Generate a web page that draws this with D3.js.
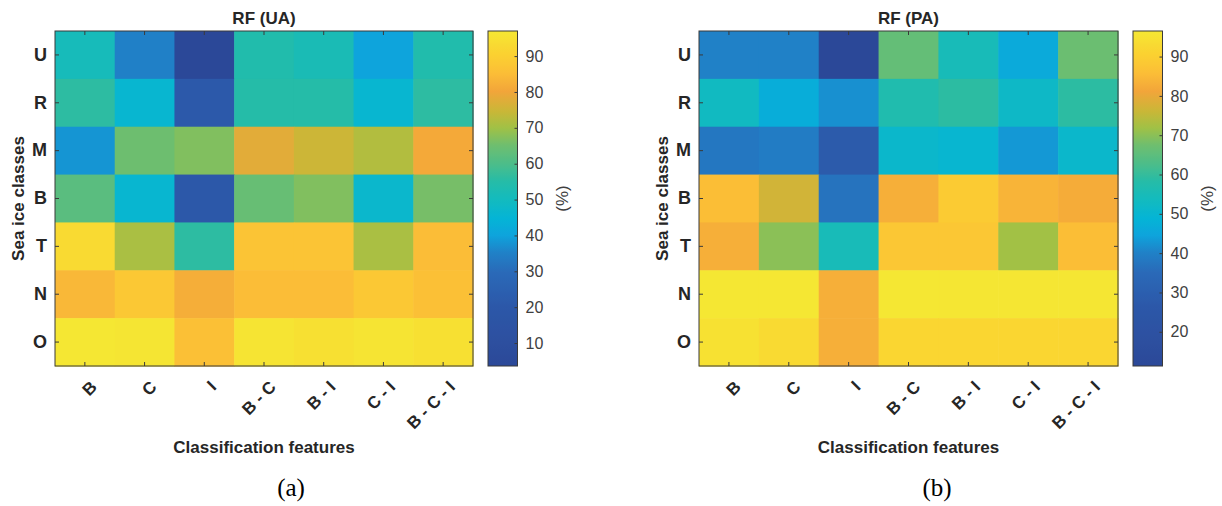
<!DOCTYPE html>
<html>
<head>
<meta charset="utf-8">
<script src="https://cdn.jsdelivr.net/npm/d3@7"></script>
<style>
  html, body { margin: 0; padding: 0; background: #fff; }
  svg { display: block; }
</style>
</head>
<body>
<svg id="chart" width="1222" height="506"></svg>
<script>
// Classification features (columns) and sea ice classes (rows)
const features = ["B", "C", "I", "B - C", "B - I", "C - I", "B - C - I"];
const classes = ["U", "R", "M", "B", "T", "N", "O"];

// User's accuracy (%) — one row per class, one entry per feature set
const uaValues = [
  [51, 35, 3.6, 54, 52, 40, 54],
  [56, 46, 21, 55, 55, 46, 56],
  [38, 65, 67, 78, 75, 72, 81],
  [62, 46, 20, 64, 67, 47, 66],
  [93, 71, 56, 87, 87, 71, 85],
  [84, 88, 82, 85, 85, 88, 86],
  [97, 96.5, 86, 96, 95, 96, 95]
];

// Producer's accuracy (%)
const paValues = [
  [40, 40, 11.3, 66, 55, 46, 67],
  [53, 47, 42, 57, 59, 52, 59],
  [38, 39, 28, 51, 50, 43, 51],
  [86, 77, 37, 83, 89, 84, 82.5],
  [83, 70, 55, 88, 88, 72, 86],
  [96.5, 96.5, 83, 96.5, 96.3, 96.3, 96.3],
  [95, 93, 83, 92, 92, 92, 92]
];

// Colour bar tick values
const uaColorTicks = [10, 20, 30, 40, 50, 60, 70, 80, 90];
const paColorTicks = [20, 30, 40, 50, 60, 70, 80, 90];

// Parula-like colour ramp (position 0..1 -> colour)
const rampPos = [0, 0.07, 0.18, 0.28, 0.34, 0.39, 0.44, 0.50, 0.55, 0.60, 0.66, 0.71, 0.76, 0.82, 0.87, 0.93, 1.0];
const rampCol = ["#2b4898", "#2d4f9f", "#2c58a9", "#2a6ab8", "#1f82c8", "#0ea4dc", "#04b4d6", "#14bbbd",
                 "#25bca8", "#4abd8b", "#6fbe6e", "#a0c146", "#c9b737", "#f2a53a", "#fbbc37", "#fbd131", "#f5e733"];
const ramp = d3.scaleLinear().domain(rampPos).range(rampCol).interpolate(d3.interpolateRgb).clamp(true);

const FONT = "'Liberation Sans', Arial, Helvetica, sans-serif";
const INK = "#262626";
const FRAME = "#3a3a3a";

const svg = d3.select("#chart");
const defs = svg.append("defs");

const plotTop = 31, plotBottom = 366;

const panels = [
  { id: "ua", title: "RF (UA)", caption: "(a)", values: uaValues, ticks: uaColorTicks,
    left: 55, right: 473, cbLeft: 488, cbWidth: 29.5, captionX: 291 },
  { id: "pa", title: "RF (PA)", caption: "(b)", values: paValues, ticks: paColorTicks,
    left: 699, right: 1118, cbLeft: 1133, cbWidth: 29.5, captionX: 937 }
];

panels.forEach(p => {
  const g = svg.append("g").attr("class", "panel-" + p.id);

  const cells = [];
  p.values.forEach((row, i) => row.forEach((v, j) => cells.push({ cls: classes[i], feat: features[j], v })));
  const extent = d3.extent(cells, d => d.v);
  const color = d3.scaleSequential(ramp).domain(extent);

  const x = d3.scaleBand().domain(features).range([p.left, p.right]).padding(0);
  const y = d3.scaleBand().domain(classes).range([plotTop, plotBottom]).padding(0);

  // Heat map cells
  g.append("g")
    .selectAll("rect")
    .data(cells)
    .join("rect")
    .attr("x", d => x(d.feat))
    .attr("y", d => y(d.cls))
    .attr("width", x.bandwidth() + 0.6)
    .attr("height", y.bandwidth() + 0.6)
    .attr("fill", d => color(d.v));

  // Plot frame
  g.append("rect")
    .attr("x", p.left).attr("y", plotTop)
    .attr("width", p.right - p.left).attr("height", plotBottom - plotTop)
    .attr("fill", "none").attr("stroke", FRAME).attr("stroke-width", 1);

  // Axes with inward ticks on all four sides
  const axB = g.append("g").attr("transform", `translate(0,${plotBottom})`)
    .call(d3.axisBottom(x).tickSizeInner(-4).tickSizeOuter(0));
  const axL = g.append("g").attr("transform", `translate(${p.left},0)`)
    .call(d3.axisLeft(y).tickSizeInner(-4).tickSizeOuter(0).tickPadding(8));
  g.append("g").attr("transform", `translate(0,${plotTop})`)
    .call(d3.axisTop(x).tickSizeInner(-4).tickSizeOuter(0).tickFormat(""));
  g.append("g").attr("transform", `translate(${p.right},0)`)
    .call(d3.axisRight(y).tickSizeInner(-4).tickSizeOuter(0).tickFormat(""));

  g.selectAll(".domain").remove();
  g.selectAll(".tick line").attr("stroke", FRAME);

  axB.selectAll("text")
    .attr("y", 0).attr("dy", 0)
    .attr("transform", "translate(13,22) rotate(-45)")
    .attr("text-anchor", "end")
    .style("font-family", FONT).style("font-size", "17px").style("font-weight", "bold")
    .attr("fill", INK);

  axL.selectAll("text")
    .style("font-family", FONT).style("font-size", "18px").style("font-weight", "bold")
    .attr("fill", INK);

  // Title
  g.append("text")
    .attr("x", (p.left + p.right) / 2).attr("y", 23.5)
    .attr("text-anchor", "middle")
    .style("font-family", FONT).style("font-size", "17px").style("font-weight", "bold")
    .attr("fill", INK)
    .text(p.title);

  // Axis titles
  g.append("text")
    .attr("transform", `translate(${p.left - 37},${(plotTop + plotBottom) / 2}) rotate(-90)`)
    .attr("text-anchor", "middle").attr("dominant-baseline", "central")
    .style("font-family", FONT).style("font-size", "17px").style("font-weight", "bold")
    .attr("fill", INK)
    .text("Sea ice classes");

  g.append("text")
    .attr("x", (p.left + p.right) / 2).attr("y", 453)
    .attr("text-anchor", "middle")
    .style("font-family", FONT).style("font-size", "17px").style("font-weight", "bold")
    .attr("fill", INK)
    .text("Classification features");

  // Colour bar
  const gradId = "grad-" + p.id;
  const grad = defs.append("linearGradient").attr("id", gradId)
    .attr("x1", 0).attr("y1", 1).attr("x2", 0).attr("y2", 0);
  grad.selectAll("stop")
    .data(d3.range(0, 1.0001, 0.01))
    .join("stop")
    .attr("offset", t => t)
    .attr("stop-color", t => ramp(t));

  const cb = d3.scaleLinear().domain(extent).range([plotBottom, plotTop]);
  g.append("rect")
    .attr("x", p.cbLeft).attr("y", plotTop)
    .attr("width", p.cbWidth).attr("height", plotBottom - plotTop)
    .attr("fill", `url(#${gradId})`)
    .attr("stroke", FRAME).attr("stroke-width", 1);

  const axC = g.append("g").attr("transform", `translate(${p.cbLeft + p.cbWidth},0)`)
    .call(d3.axisRight(cb).tickValues(p.ticks).tickSizeInner(-3).tickSizeOuter(0).tickPadding(8));
  axC.select(".domain").remove();
  axC.selectAll(".tick line").attr("stroke", FRAME);
  axC.selectAll("text")
    .style("font-family", FONT).style("font-size", "16px")
    .attr("fill", "#404040");

  g.append("text")
    .attr("transform", `translate(${p.cbLeft + 74},${(plotTop + plotBottom) / 2}) rotate(-90)`)
    .attr("text-anchor", "middle").attr("dominant-baseline", "central")
    .style("font-family", FONT).style("font-size", "17px")
    .attr("fill", "#404040")
    .text("(%)");

  // Panel caption
  g.append("text")
    .attr("x", p.captionX).attr("y", 496)
    .attr("text-anchor", "middle")
    .style("font-family", "'Liberation Serif', 'Times New Roman', serif").style("font-size", "25px")
    .attr("fill", "#000")
    .text(p.caption);
});
</script>
</body>
</html>
